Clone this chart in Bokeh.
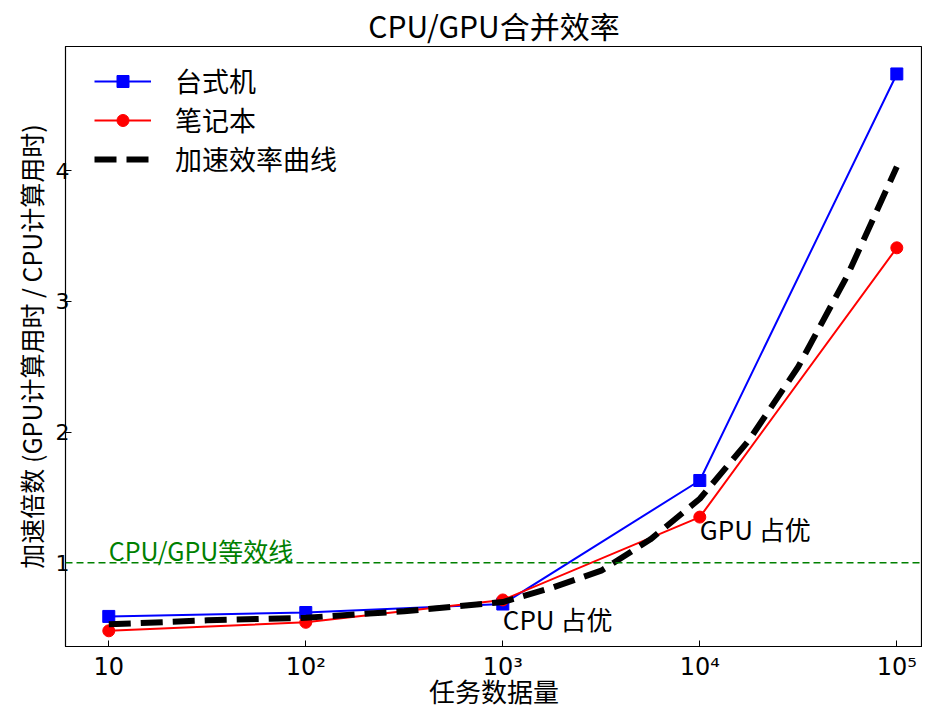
from bokeh.plotting import figure
from bokeh.models import FixedTicker, Range1d, Span, Legend, LegendItem
from bokeh.core.properties import value
from bokeh.embed import file_html
from bokeh.resources import INLINE

# ---- data ----
sizes = [10, 100, 1000, 10000, 100000]
desktop = [0.59, 0.62, 0.685, 1.63, 4.74]
laptop = [0.48, 0.545, 0.716, 1.35, 3.41]
curve_x = [10, 31.6, 100, 316, 1000, 1780, 3160, 5620, 10000, 17800, 31600, 56200, 100000]
curve_y = [0.53, 0.56, 0.58, 0.63, 0.70, 0.81, 0.94, 1.18, 1.49, 1.94, 2.50, 3.20, 4.03]
x_ticks = [10, 100, 1000, 10000, 100000]
x_tick_labels = ["10", "10²", "10³", "10⁴", "10⁵"]
y_ticks = [1, 2, 3, 4]
equal_level = 1.0
equal_label = "CPU/GPU等效线"
notes = ["CPU 占优", "GPU 占优"]
notes_x = [1000, 10000]
notes_y = [0.655, 1.34]
x_title = "任务数据量"
y_title = "加速倍数 (GPU计算用时 / CPU计算用时)"

FONT = "Noto Sans CJK SC"
FONT_TIGHT = "Liberation Sans, Noto Sans CJK SC"

p = figure(width=922, height=710, x_axis_type="log",
           x_range=Range1d(6.03, 135000), y_range=Range1d(0.36, 4.95),
           output_backend="svg", toolbar_location=None,
           title="CPU/GPU合并效率",
           min_border_left=65, min_border_right=0, min_border_top=30, min_border_bottom=61)

p.title.text_font = FONT
p.title.text_font_size = "30px"
p.title.text_font_style = "normal"
p.title.text_color = "black"
p.title.align = "center"
p.title.offset = 0
p.title.standoff = 0

p.xgrid.visible = False
p.ygrid.visible = False
p.outline_line_color = "black"
p.outline_line_width = 1.2
p.outline_line_alpha = 1

for ax in (p.xaxis[0], p.yaxis[0]):
    ax.major_tick_in = 6
    ax.major_tick_out = 0
    ax.minor_tick_in = 0
    ax.minor_tick_out = 0
    ax.axis_line_color = "black"
    ax.major_tick_line_color = "black"
    ax.major_label_text_color = "black"
    ax.axis_label_text_color = "black"
    ax.axis_label_text_font_style = "normal"

p.xaxis.ticker = FixedTicker(ticks=x_ticks, minor_ticks=[])
p.xaxis.major_label_overrides = {t: l for t, l in zip(x_ticks, x_tick_labels)}
p.xaxis.major_label_text_font = "DejaVu Sans"
p.xaxis.major_label_text_font_size = "24px"
p.xaxis.major_label_standoff = 6
p.xaxis.axis_label = x_title
p.xaxis.axis_label_text_font = FONT_TIGHT
p.xaxis.axis_label_text_font_size = "26px"
p.xaxis.axis_label_standoff = -6

p.yaxis.ticker = FixedTicker(ticks=y_ticks, minor_ticks=[])
p.yaxis.major_label_text_font = "DejaVu Sans"
p.yaxis.major_label_text_font_size = "22px"
p.yaxis.major_label_standoff = -4
p.yaxis.major_label_orientation = "horizontal"
p.yaxis.axis_label = y_title
p.yaxis.axis_label_text_font = FONT
p.yaxis.axis_label_text_font_size = "25px"
p.yaxis.axis_label_standoff = 4

# equal-efficiency line
p.add_layout(Span(location=equal_level, dimension="width", line_color="green",
                  line_dash="7 4", line_width=1.5))
p.text(x=[sizes[0]], y=[equal_level], text=[equal_label], text_color="green",
       text_font=value(FONT), text_font_size="25px", text_baseline="bottom",
       text_align="left", y_offset=5)

# series
l1 = p.line(sizes, desktop, line_color="blue", line_width=2)
s1 = p.scatter(sizes, desktop, marker="square", size=12, fill_color="blue", line_color="blue")
l2 = p.line(sizes, laptop, line_color="red", line_width=2)
s2 = p.scatter(sizes, laptop, marker="circle", size=12, fill_color="red", line_color="red")
l3 = p.line(curve_x, curve_y, line_color="black", line_width=6, line_dash="22 10")

# annotations
p.text(x=notes_x, y=notes_y, text=notes, text_color="black",
       text_font=value(FONT), text_font_size="26px", text_baseline="top", text_align="left",
       y_offset=-8)

legend = Legend(items=[
    LegendItem(label="台式机", renderers=[l1, s1]),
    LegendItem(label="笔记本", renderers=[l2, s2]),
    LegendItem(label="加速效率曲线", renderers=[l3]),
], location=(29, 468))
legend.label_text_font = FONT
legend.label_text_font_size = "27px"
legend.label_text_color = "black"
legend.glyph_width = 57
legend.glyph_height = 30
legend.label_standoff = 24
legend.label_height = 30
legend.spacing = 0
legend.padding = 0
legend.margin = 0
legend.border_line_alpha = 0
legend.background_fill_alpha = 0
p.add_layout(legend)

open("out.html", "w").write(file_html(p, INLINE))
